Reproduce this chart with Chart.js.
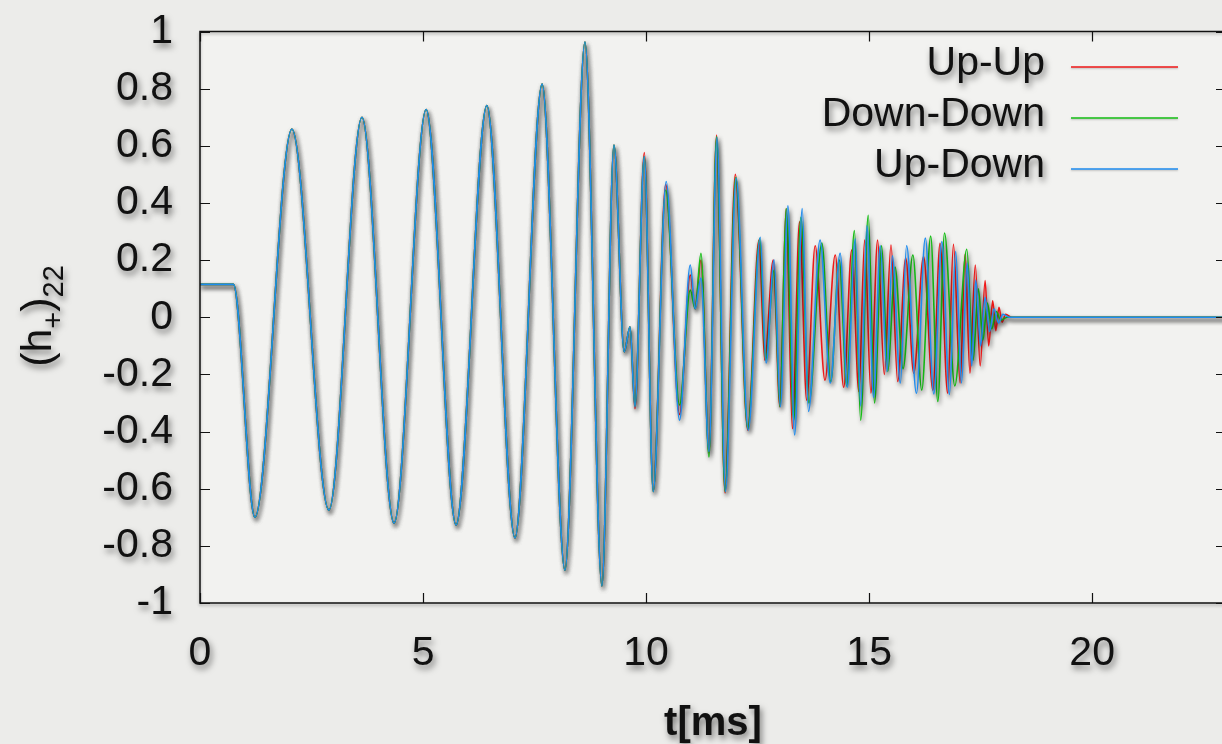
<!DOCTYPE html>
<html><head><meta charset="utf-8">
<script src="https://cdn.jsdelivr.net/npm/chart.js@4/dist/chart.umd.min.js"></script>
<style>
html,body{margin:0;padding:0;overflow:hidden;background:#ececea;width:1222px;height:744px}
canvas{display:block}
</style>
</head><body>
<canvas id="c" width="1240" height="744" style="width:1240px;height:744px"></canvas>
<script>
// ---- data ----
const seriesLabels = ['Up-Up', 'Down-Down', 'Up-Down'];
const seriesColors = ['#f01818', '#14bf14', '#1e8cf0'];
const xTicks = [0, 5, 10, 15, 20];
const xTickLabels = ['0', '5', '10', '15', '20'];
const yTicks = [1, 0.8, 0.6, 0.4, 0.2, 0, -0.2, -0.4, -0.6, -0.8, -1];
const yTickLabels = ['1', '0.8', '0.6', '0.4', '0.2', '0', '-0.2', '-0.4', '-0.6', '-0.8', '-1'];

// common inspiral part (all three coincide), extrema in t[ms] / (h+)22
const commonT = [0, 0.75, 1.23, 2.06, 2.89, 3.63, 4.35, 5.07, 5.74, 6.43, 7.06, 7.67, 8.18, 8.63, 9.01, 9.28, 9.51, 9.64];
const commonV = [0.115, 0.115, -0.70, 0.659, -0.675, 0.70, -0.72, 0.727, -0.727, 0.741, -0.772, 0.816, -0.885, 0.963, -0.94, 0.603, -0.121, -0.033];

const upUpT = [9.75, 9.96, 10.16, 10.44, 10.75, 10.99, 11.10, 11.23, 11.41, 11.58, 11.77, 12.0, 12.28, 12.53, 12.66, 12.85, 13.0, 13.14, 13.28, 13.44, 13.6, 13.79, 14.01, 14.24, 14.43, 14.61, 14.77, 14.9, 15.04, 15.19, 15.34, 15.49, 15.64, 15.82, 16.0, 16.22, 16.43, 16.59, 16.76, 16.89, 17.04, 17.15, 17.26, 17.38, 17.49, 17.6, 17.68, 17.77, 17.84, 17.91, 17.98, 18.06, 18.2, 23];
const upUpV = [-0.32, 0.576, -0.61, 0.465, -0.34, 0.148, 0.03, 0.20, -0.475, 0.638, -0.615, 0.50, -0.395, 0.27, -0.15, 0.20, -0.313, 0.38, -0.39, 0.334, -0.29, 0.25, -0.22, 0.218, -0.245, 0.235, -0.26, 0.27, -0.265, 0.27, -0.2, 0.253, -0.225, 0.207, -0.196, 0.212, -0.255, 0.259, -0.266, 0.255, -0.23, 0.22, -0.196, 0.183, -0.17, 0.128, -0.1, 0.058, -0.047, 0.035, -0.017, 0.01, 0, 0];

const downDownT = [9.75, 9.96, 10.16, 10.44, 10.75, 10.99, 11.10, 11.23, 11.41, 11.58, 11.77, 12.01, 12.28, 12.55, 12.68, 12.87, 13.0, 13.14, 13.31, 13.47, 13.65, 13.94, 14.14, 14.33, 14.5, 14.67, 14.81, 14.98, 15.12, 15.28, 15.42, 15.58, 15.76, 15.98, 16.18, 16.38, 16.54, 16.69, 16.92, 17.19, 17.33, 17.45, 17.55, 17.65, 17.75, 17.85, 17.95, 18.1, 23];
const downDownV = [-0.31, 0.562, -0.61, 0.445, -0.307, 0.095, 0.03, 0.224, -0.489, 0.632, -0.61, 0.49, -0.39, 0.275, -0.15, 0.165, -0.313, 0.38, -0.36, 0.35, -0.3, 0.26, -0.225, 0.20, -0.24, 0.303, -0.36, 0.357, -0.3, 0.25, -0.19, 0.176, -0.18, 0.218, -0.255, 0.284, -0.295, 0.295, -0.24, 0.238, -0.15, 0.1, -0.08, 0.05, -0.04, 0.02, -0.01, 0, 0];

const upDownT = [9.75, 9.96, 10.16, 10.45, 10.75, 10.99, 11.10, 11.23, 11.41, 11.59, 11.78, 12.02, 12.29, 12.56, 12.69, 12.87, 13.01, 13.18, 13.33, 13.5, 13.64, 13.9, 14.13, 14.35, 14.51, 14.69, 14.81, 14.95, 15.1, 15.25, 15.4, 15.52, 15.7, 15.84, 16.06, 16.26, 16.45, 16.63, 16.8, 16.94, 17.07, 17.2, 17.3, 17.39, 17.5, 17.6, 17.7, 17.8, 17.9, 18.0, 18.15, 23];
const upDownV = [-0.313, 0.562, -0.61, 0.475, -0.36, 0.183, 0.03, 0.137, -0.47, 0.63, -0.61, 0.487, -0.395, 0.28, -0.16, 0.20, -0.313, 0.39, -0.412, 0.38, -0.33, 0.27, -0.23, 0.224, -0.245, 0.274, -0.31, 0.32, -0.28, 0.25, -0.19, 0.215, -0.23, 0.25, -0.266, 0.277, -0.268, 0.265, -0.27, 0.23, -0.23, 0.19, -0.17, 0.13, -0.1, 0.07, -0.05, 0.03, -0.02, 0.01, 0, 0];

// ---- build ----
const FONT = '"Liberation Sans", Helvetica, Arial, sans-serif';
function pairs(ts, vs) { return ts.map((t, i) => ({ x: t, y: vs[i] })); }
function series(tailT, tailV) { return pairs(commonT.concat(tailT), commonV.concat(tailV)); }

function textShadow(ctx) {
  ctx.shadowColor = 'rgba(0,0,0,0.5)';
  ctx.shadowBlur = 6;
  ctx.shadowOffsetX = 2;
  ctx.shadowOffsetY = 4;
}

const decor = {
  id: 'decor',
  beforeDraw(chart) {
    const { ctx, chartArea: a } = chart;
    ctx.save();
    ctx.fillStyle = '#ececea';
    ctx.fillRect(0, 0, chart.width, chart.height);
    ctx.fillStyle = '#f2f2f0';
    ctx.fillRect(a.left, a.top, a.right - a.left, a.bottom - a.top);
    ctx.restore();
    ctx.save();
    textShadow(ctx);
  },
  beforeDatasetsDraw(chart) {
    const ctx = chart.ctx;
    ctx.restore();
    ctx.save();
    ctx.shadowColor = 'rgba(0,0,0,0.5)';
    ctx.shadowBlur = 4;
    ctx.shadowOffsetX = 1.5;
    ctx.shadowOffsetY = 3;
  },
  afterDatasetsDraw(chart) {
    chart.ctx.restore();
  },
  afterDraw(chart) {
    const { ctx, chartArea: a, scales } = chart;
    // frame + inward ticks
    ctx.save();
    ctx.shadowColor = 'rgba(0,0,0,0.3)';
    ctx.shadowBlur = 3;
    ctx.shadowOffsetY = 2;
    ctx.strokeStyle = '#111';
    ctx.lineWidth = 1.5;
    ctx.strokeRect(a.left, a.top, a.right - a.left, a.bottom - a.top);
    ctx.shadowColor = 'transparent';
    ctx.lineWidth = 1.2;
    ctx.beginPath();
    xTicks.forEach(v => {
      const px = Math.round(scales.x.getPixelForValue(v)) + 0.5;
      ctx.moveTo(px, a.bottom); ctx.lineTo(px, a.bottom - 10);
      ctx.moveTo(px, a.top); ctx.lineTo(px, a.top + 10);
    });
    yTicks.forEach(v => {
      const py = Math.round(scales.y.getPixelForValue(v)) + 0.5;
      ctx.moveTo(a.left, py); ctx.lineTo(a.left + 10, py);
      ctx.moveTo(a.right, py); ctx.lineTo(a.right - 10, py);
    });
    ctx.stroke();
    ctx.restore();

    // legend (text right aligned, sample line to the right)
    ctx.save();
    ctx.font = '41px ' + FONT;
    ctx.textAlign = 'right';
    ctx.textBaseline = 'alphabetic';
    chart.data.datasets.forEach((ds, i) => {
      const base = 75 + i * 51;
      textShadow(ctx);
      ctx.fillStyle = '#111';
      ctx.fillText(ds.label, 1045, base);
      ctx.shadowColor = 'rgba(0,0,0,0.25)';
      ctx.shadowBlur = 2; ctx.shadowOffsetX = 0; ctx.shadowOffsetY = 1;
      ctx.strokeStyle = ds.borderColor;
      ctx.lineWidth = 1.6;
      ctx.beginPath();
      ctx.moveTo(1071, base - 8); ctx.lineTo(1178, base - 8);
      ctx.stroke();
    });
    ctx.restore();

    // y axis title (h+)22 with subscripts, rotated
    ctx.save();
    textShadow(ctx);
    ctx.fillStyle = '#111';
    ctx.translate(51, 316);
    ctx.rotate(-Math.PI / 2);
    ctx.textBaseline = 'alphabetic';
    ctx.textAlign = 'left';
    const main = '43px ' + FONT, sub = '29px ' + FONT;
    const parts = [['(h', main, 0], ['+', sub, 12], [')', main, 0], ['22', sub, 12]];
    let total = 0;
    parts.forEach(p => { ctx.font = p[1]; total += ctx.measureText(p[0]).width; });
    let x = -total / 2;
    parts.forEach(p => { ctx.font = p[1]; ctx.fillText(p[0], x, p[2]); x += ctx.measureText(p[0]).width; });
    ctx.restore();
  }
};

new Chart(document.getElementById('c'), {
  type: 'line',
  data: {
    datasets: [
      { label: seriesLabels[0], data: series(upUpT, upUpV), borderColor: seriesColors[0], order: 3 },
      { label: seriesLabels[1], data: series(downDownT, downDownV), borderColor: seriesColors[1], order: 2 },
      { label: seriesLabels[2], data: series(upDownT, upDownV), borderColor: seriesColors[2], order: 1 }
    ]
  },
  options: {
    responsive: false,
    animation: false,
    devicePixelRatio: 1,
    layout: { padding: { top: 31.5, right: 14, left: 0, bottom: 0 } },
    elements: {
      point: { radius: 0, hoverRadius: 0 },
      line: { borderWidth: 1.6, cubicInterpolationMode: 'monotone', fill: false }
    },
    plugins: { legend: { display: false }, tooltip: { enabled: false }, title: { display: false } },
    events: [],
    scales: {
      x: {
        type: 'linear', min: 0, max: 23,
        afterBuildTicks: s => { s.ticks = xTicks.map(v => ({ value: v })); },
        afterFit: s => { s.height = 141; s.paddingLeft = 0; s.paddingRight = 0; },
        grid: { display: false, drawTicks: false },
        border: { display: false },
        ticks: {
          color: '#111', padding: 26, maxRotation: 0, autoSkip: false,
          font: { family: FONT, size: 41 },
          callback: (v) => xTickLabels[xTicks.indexOf(v)]
        },
        title: {
          display: true, text: 't[ms]', color: '#111',
          font: { family: FONT, size: 40, weight: 'bold', lineHeight: 1 },
          padding: { top: 0, bottom: 0 }
        }
      },
      y: {
        type: 'linear', min: -1, max: 1,
        afterBuildTicks: s => { s.ticks = yTicks.map(v => ({ value: v })); },
        afterFit: s => { s.width = 200; s.paddingTop = 0; s.paddingBottom = 0; },
        grid: { display: false, drawTicks: false },
        border: { display: false },
        ticks: {
          color: '#111', padding: 27, autoSkip: false,
          font: { family: FONT, size: 41 },
          callback: (v) => yTickLabels[yTicks.indexOf(v)]
        }
      }
    }
  },
  plugins: [decor]
});
</script>
</body></html>
